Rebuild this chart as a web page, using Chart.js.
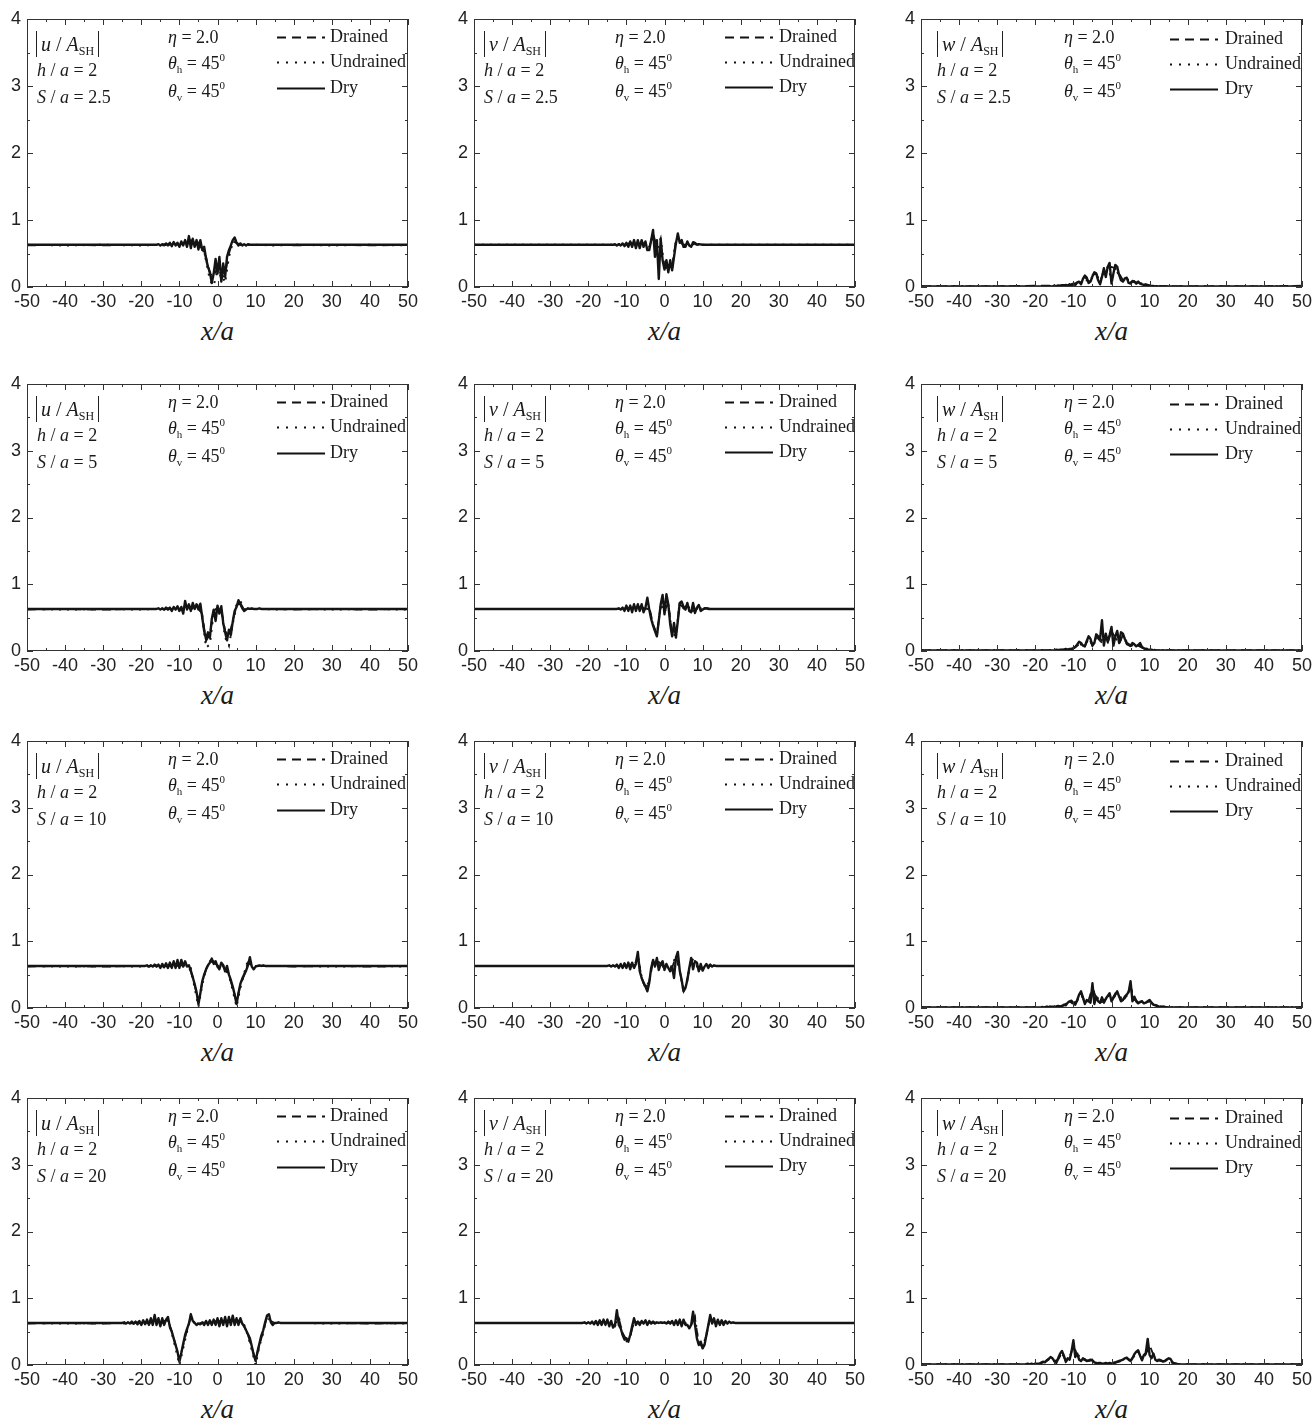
<!DOCTYPE html>
<html>
<head>
<meta charset="utf-8">
<script src="https://cdn.jsdelivr.net/npm/chart.js@4.4.1/dist/chart.umd.min.js"></script>
<style>
  body { margin: 0; background: #fff; width: 1313px; height: 1422px; overflow: hidden; position: relative;
         font-family: 'Liberation Serif', 'Times New Roman', serif; color: #1a1a1a; }
  canvas { position: absolute; }
  .t { position: absolute; font-size: 18px; line-height: 22px; white-space: nowrap; }
  .t sub { font-size: 11px; vertical-align: -4px; line-height: 0; font-style: normal; }
  .t sup { font-size: 11px; vertical-align: 8px; line-height: 0; }
  .abs { display: inline-block; font-size: 20px; border-left: 1.5px solid #222; border-right: 1.5px solid #222; padding: 2px 4px; line-height: 22px; }
  .abs sub { font-size: 12px; }
  .xl { position: absolute; font-size: 27px; font-style: italic; width: 120px; text-align: center; line-height: 30px; }
</style>
</head>
<body>
<script>
// panel labels
const varNames = ['u', 'v', 'w'];
const sLabels = ['2.5', '5', '10', '20'];
const legendLabels = ['Drained', 'Undrained', 'Dry'];
const xTickMarks = [-50,-45,-40,-35,-30,-25,-20,-15,-10,-5,0,5,10,15,20,25,30,35,40,45,50];
const yTickMarks = [0,0.5,1,1.5,2,2.5,3,3.5,4];

// ---- row 1 : S/a = 2.5 ----
const xDense1 = [-50,-40,-30,-20,
  -16,-15.5,-15,-14.5,-14,-13.5,-13,-12.5,-12,-11.5,
  -11,-10.5,-10,-9.5,-9,-8.5,-8,-7.5,-7,-6.5,
  -6,-5.5,-5,-4.5,-4,-3.5,-3,-2.5,-2,-1.5,
  -1,-0.5,0,0.5,1,1.5,2,2.5,3,3.5,
  4,4.5,5,5.5,6,6.5,7,7.5,8,8.5,
  9,10,12,15,20,30,40,50];
const uDry1 = [.63,.63,.63,.63,
  .63,.64,.62,.64,.63,.65,.62,.66,.61,.67,
  .62,.66,.60,.68,.62,.70,.60,.76,.58,.72,
  .60,.70,.56,.70,.55,.60,.42,.30,.22,.06,
  .20,.42,.20,.45,.08,.35,.15,.45,.55,.62,
  .70,.74,.66,.62,.65,.62,.64,.62,.64,.63,
  .63,.63,.63,.63,.63,.63,.63,.63];
const vDry1 = [.63,.63,.63,.63,
  .63,.63,.63,.63,.63,.63,.64,.62,.64,.62,
  .65,.61,.66,.60,.68,.60,.70,.58,.70,.58,
  .70,.60,.68,.55,.55,.70,.85,.45,.70,.12,
  .72,.40,.26,.40,.22,.40,.25,.45,.65,.80,
  .66,.70,.60,.60,.68,.62,.60,.67,.66,.63,
  .64,.63,.63,.63,.63,.63,.63,.63];
const wDry1 = [.01,.01,.01,.01,
  .01,.01,.02,.01,.02,.01,.02,.02,.03,.02,
  .04,.02,.05,.03,.07,.08,.04,.12,.17,.14,
  .06,.08,.16,.22,.20,.10,.04,.15,.28,.15,
  .30,.36,.05,.20,.33,.30,.18,.10,.08,.13,
  .14,.06,.05,.09,.08,.05,.08,.05,.04,.03,
  .04,.02,.01,.01,.01,.01,.01,.01];
const xCoarse1 = [-50,-40,-30,-20,
  -15,-14,-13,-12,-11,-10,-9,-8,-7,-6,
  -5,-4,-3,-2,-1,0,1,2,3,4,
  5,6,7,8,9,10,
  15,20,30,40,50];
const uDrained1 = [.62,.63,.62,.63,
  .63,.62,.64,.62,.65,.62,.66,.62,.70,.60,
  .66,.56,.45,.20,.15,.30,.12,.20,.50,.68,
  .66,.63,.64,.63,.63,.63,
  .63,.62,.63,.62,.63];
const uUndrained1 = [.63,.62,.63,.62,
  .63,.63,.63,.63,.64,.62,.65,.63,.68,.62,
  .64,.60,.40,.10,.02,.25,.20,.06,.45,.66,
  .70,.63,.63,.63,.63,.63,
  .62,.63,.62,.63,.62];
const vDrained1 = [.63,.63,.63,.63,
  .63,.63,.63,.63,.64,.63,.66,.65,.64,.66,
  .64,.58,.80,.60,.60,.30,.28,.30,.70,.68,
  .62,.66,.62,.65,.63,.63,
  .63,.63,.63,.63,.63];
const vUndrained1 = [.63,.63,.63,.63,
  .63,.63,.63,.64,.63,.64,.64,.66,.63,.65,
  .62,.60,.78,.55,.72,.28,.30,.28,.68,.70,
  .63,.65,.63,.64,.63,.63,
  .63,.63,.63,.63,.63];
const wDrained1 = [.01,.01,.01,.02,
  .02,.02,.03,.03,.04,.05,.06,.09,.15,.08,
  .18,.20,.08,.25,.28,.30,.28,.20,.10,.12,
  .07,.08,.06,.04,.03,.02,
  .01,.01,.01,.01,.02];
const wUndrained1 = [.01,.01,.01,.01,
  .01,.02,.02,.03,.03,.04,.05,.07,.13,.07,
  .15,.18,.06,.22,.30,.12,.30,.16,.09,.13,
  .06,.09,.07,.05,.03,.02,
  .01,.01,.01,.01,.01];

// ---- row 2 : S/a = 5 ----
const xDense2 = [-50,-40,-30,-20,
  -16,-15.5,-15,-14.5,-14,-13.5,-13,-12.5,-12,-11.5,
  -11,-10.5,-10,-9.5,-9,-8.5,-8,-7.5,-7,-6.5,
  -6,-5.5,-5,-4.5,-4,-3.5,-3,-2.5,-2,-1.5,
  -1,-0.5,0,0.5,1,1.5,2,2.5,3,3.5,
  4,4.5,5,5.5,6,6.5,7,7.5,8,8.5,
  9,9.5,10,10.5,11,11.5,12,
  15,20,30,40,50];
const uDry2 = [.63,.63,.63,.63,
  .63,.64,.62,.64,.62,.65,.62,.65,.60,.66,
  .62,.67,.60,.66,.56,.75,.62,.70,.60,.72,
  .63,.70,.62,.71,.50,.30,.18,.28,.20,.48,
  .62,.45,.68,.56,.67,.42,.28,.16,.32,.24,
  .44,.60,.66,.76,.70,.64,.60,.62,.64,.63,
  .64,.63,.63,.63,.64,.63,.63,
  .63,.63,.63,.63,.63];
const vDry2 = [.63,.63,.63,.63,
  .63,.63,.63,.63,.63,.63,.63,.63,.64,.62,
  .65,.60,.68,.60,.68,.58,.70,.60,.70,.60,
  .70,.58,.65,.80,.62,.48,.38,.30,.22,.45,
  .70,.84,.55,.85,.70,.40,.22,.42,.20,.45,
  .72,.74,.66,.62,.72,.60,.58,.72,.57,.65,
  .69,.60,.62,.64,.64,.63,.63,
  .63,.63,.63,.63,.63];
const wDry2 = [.01,.01,.01,.01,
  .01,.01,.01,.02,.01,.02,.02,.02,.03,.02,
  .03,.03,.04,.06,.10,.14,.12,.08,.07,.15,
  .22,.18,.08,.12,.25,.22,.18,.46,.08,.26,
  .14,.24,.36,.08,.22,.30,.12,.28,.26,.18,
  .12,.10,.08,.12,.10,.07,.09,.12,.06,.04,
  .03,.02,.02,.02,.01,.01,.01,
  .01,.01,.01,.01,.01];
const xCoarse2 = [-50,-40,-30,-20,
  -16,-15,-14,-13,-12,-11,-10,-9,-8,-7,
  -6,-5,-4,-3,-2,-1,0,1,2,3,
  4,5,6,7,8,9,10,11,12,
  15,20,30,40,50];
const uDrained2 = [.62,.63,.62,.63,
  .63,.63,.62,.64,.62,.65,.63,.60,.68,.62,
  .66,.64,.55,.15,.25,.60,.65,.62,.30,.22,
  .45,.68,.72,.62,.63,.63,.63,.63,.63,
  .63,.62,.63,.62,.63];
const uUndrained2 = [.63,.62,.63,.62,
  .63,.62,.63,.63,.63,.64,.62,.62,.70,.63,
  .65,.70,.50,.05,.10,.58,.62,.60,.20,.08,
  .40,.70,.75,.63,.63,.63,.63,.63,.63,
  .62,.63,.62,.63,.62];
const vDrained2 = [.63,.63,.63,.63,
  .63,.63,.63,.63,.63,.64,.64,.64,.66,.65,
  .66,.63,.66,.40,.25,.68,.60,.72,.25,.25,
  .70,.65,.68,.60,.60,.66,.62,.64,.63,
  .63,.63,.63,.63,.63];
const vUndrained2 = [.63,.63,.63,.63,
  .63,.63,.63,.63,.63,.63,.65,.63,.67,.64,
  .67,.62,.64,.38,.24,.70,.58,.70,.24,.24,
  .72,.64,.69,.60,.60,.66,.62,.64,.63,
  .63,.63,.63,.63,.63];
const wDrained2 = [.01,.01,.01,.01,
  .01,.01,.01,.02,.02,.03,.04,.08,.12,.07,
  .20,.08,.22,.15,.10,.12,.30,.20,.10,.24,
  .10,.07,.10,.08,.05,.03,.02,.01,.01,
  .01,.01,.01,.01,.01];
const wUndrained2 = [.01,.01,.01,.01,
  .01,.01,.02,.02,.02,.03,.05,.07,.10,.09,
  .18,.10,.20,.20,.12,.15,.28,.18,.14,.20,
  .14,.08,.09,.10,.06,.04,.02,.02,.01,
  .01,.01,.01,.01,.01];

// ---- row 3 : S/a = 10 ----
const xDense3 = [-50,-40,-30,-25,
  -20,-19.5,-19,-18.5,-18,-17.5,-17,-16.5,-16,-15.5,
  -15,-14.5,-14,-13.5,-13,-12.5,-12,-11.5,-11,-10.5,
  -10,-9.5,-9,-8.5,-8,-7.5,-7,-6.5,-6,-5.5,
  -5,-4.5,-4,-3.5,-3,-2.5,-2,-1.5,-1,-0.5,
  0,0.5,1,1.5,2,2.5,3,3.5,4,4.5,
  5,5.5,6,6.5,7,7.5,8,8.5,9,9.5,
  10,10.5,11,11.5,12,12.5,13,13.5,14,14.5,
  15,20,25,30,40,50];
const uDry3 = [.63,.63,.63,.63,
  .63,.63,.63,.64,.62,.64,.62,.65,.62,.65,
  .60,.66,.61,.67,.60,.68,.60,.70,.60,.72,
  .60,.72,.62,.70,.62,.64,.56,.46,.36,.24,
  .06,.22,.40,.50,.58,.64,.68,.74,.66,.70,
  .62,.58,.68,.64,.55,.63,.50,.42,.32,.20,
  .06,.22,.36,.44,.50,.56,.64,.76,.62,.58,
  .62,.63,.64,.63,.64,.63,.63,.63,.63,.63,
  .63,.63,.63,.63,.63,.63];
const vDry3 = [.63,.63,.63,.63,
  .63,.63,.63,.63,.63,.63,.63,.63,.63,.63,
  .63,.64,.62,.64,.62,.65,.60,.66,.60,.67,
  .60,.68,.58,.68,.60,.66,.84,.55,.45,.38,
  .32,.25,.38,.60,.72,.62,.75,.57,.66,.70,
  .57,.66,.60,.55,.62,.45,.75,.84,.56,.42,
  .25,.30,.42,.60,.75,.58,.70,.68,.55,.66,
  .56,.62,.66,.60,.65,.62,.64,.63,.63,.63,
  .63,.63,.63,.63,.63,.63];
const wDry3 = [.01,.01,.01,.01,
  .01,.01,.01,.01,.01,.01,.02,.01,.02,.02,
  .02,.02,.03,.02,.03,.05,.04,.08,.10,.11,
  .07,.05,.12,.20,.25,.16,.06,.12,.10,.08,
  .37,.06,.17,.10,.08,.16,.08,.14,.18,.22,
  .10,.15,.20,.25,.17,.10,.12,.17,.20,.24,
  .40,.10,.17,.10,.07,.09,.10,.07,.08,.10,
  .12,.08,.05,.04,.03,.02,.02,.02,.01,.01,
  .01,.01,.01,.01,.01,.01];
const xCoarse3 = [-50,-40,-30,
  -20,-19,-18,-17,-16,-15,-14,-13,-12,-11,
  -10,-9,-8,-7,-6,-5,-4,-3,-2,-1,
  0,1,2,3,4,5,6,7,8,9,
  10,11,12,13,14,15,
  20,30,40,50];
const uDrained3 = [.62,.63,.62,
  .63,.63,.62,.63,.63,.62,.63,.62,.64,.63,
  .64,.64,.64,.55,.34,.10,.38,.58,.70,.68,
  .64,.66,.58,.48,.30,.10,.34,.50,.68,.64,
  .62,.63,.63,.63,.63,.63,
  .62,.63,.62,.63];
const uUndrained3 = [.63,.62,.63,
  .62,.63,.63,.62,.64,.63,.62,.64,.62,.66,
  .62,.66,.62,.60,.30,.02,.35,.60,.66,.70,
  .62,.68,.60,.50,.26,.02,.30,.52,.72,.62,
  .63,.63,.63,.63,.63,.63,
  .63,.62,.63,.62];
const vDrained3 = [.63,.63,.63,
  .63,.63,.63,.63,.63,.63,.63,.63,.62,.64,
  .62,.65,.62,.78,.45,.30,.40,.70,.72,.66,
  .60,.62,.60,.78,.56,.26,.44,.72,.68,.58,
  .60,.64,.63,.63,.63,.63,
  .63,.63,.63,.63];
const vUndrained3 = [.63,.63,.63,
  .63,.63,.63,.63,.63,.63,.63,.63,.63,.63,
  .63,.64,.63,.80,.46,.30,.38,.72,.70,.65,
  .60,.62,.62,.80,.55,.24,.42,.74,.70,.57,
  .60,.65,.62,.63,.63,.63,
  .63,.63,.63,.63];
const wDrained3 = [.01,.01,.01,
  .01,.01,.01,.02,.02,.02,.03,.03,.05,.09,
  .08,.10,.22,.08,.12,.30,.15,.08,.10,.16,
  .12,.22,.15,.12,.18,.32,.15,.08,.09,.08,
  .10,.05,.03,.02,.02,.01,
  .01,.01,.01,.01];
const wUndrained3 = [.01,.01,.01,
  .01,.01,.02,.02,.02,.03,.03,.04,.06,.10,
  .06,.12,.20,.10,.10,.28,.18,.10,.12,.20,
  .14,.18,.20,.10,.20,.30,.12,.10,.10,.10,
  .11,.06,.04,.02,.02,.01,
  .01,.01,.01,.01];

// ---- row 4 : S/a = 20 ----
const xDense4 = [-50,-40,-30,
  -26,-25.5,-25,-24.5,-24,-23.5,-23,-22.5,-22,-21.5,
  -21,-20.5,-20,-19.5,-19,-18.5,-18,-17.5,-17,-16.5,
  -16,-15.5,-15,-14.5,-14,-13.5,-13,-12.5,-12,-11.5,
  -11,-10.5,-10,-9.5,-9,-8.5,-8,-7.5,-7,-6.5,
  -6,-5.5,-5,-4.5,-4,-3.5,-3,-2.5,-2,-1.5,
  -1,-0.5,0,0.5,1,1.5,2,2.5,3,3.5,
  4,4.5,5,5.5,6,6.5,7,7.5,8,8.5,
  9,9.5,10,10.5,11,11.5,12,12.5,13,13.5,
  14,14.5,15,15.5,16,16.5,17,17.5,18,18.5,
  19,19.5,20,20.5,21,21.5,22,
  30,40,50];
const uDry4 = [.63,.63,.63,
  .63,.63,.63,.64,.62,.64,.62,.65,.62,.65,
  .61,.66,.60,.67,.61,.68,.60,.70,.60,.75,
  .60,.70,.58,.70,.60,.68,.72,.57,.50,.40,
  .30,.20,.05,.18,.32,.45,.54,.62,.76,.66,
  .63,.60,.62,.61,.64,.60,.66,.60,.67,.60,
  .68,.60,.70,.58,.70,.60,.72,.58,.72,.60,
  .74,.60,.70,.60,.70,.62,.58,.52,.46,.40,
  .28,.15,.06,.20,.32,.44,.52,.64,.74,.76,
  .64,.60,.63,.63,.64,.63,.63,.63,.63,.63,
  .63,.63,.63,.63,.63,.63,.63,
  .63,.63,.63];
const vDry4 = [.63,.63,.63,
  .63,.63,.63,.63,.63,.63,.63,.63,.63,.63,
  .64,.62,.64,.62,.65,.61,.66,.60,.67,.60,
  .68,.60,.68,.58,.66,.56,.60,.82,.60,.55,
  .45,.38,.40,.35,.45,.58,.70,.60,.65,.60,
  .66,.62,.67,.60,.66,.62,.65,.62,.64,.63,
  .64,.63,.64,.62,.65,.62,.66,.60,.67,.60,
  .68,.58,.68,.60,.60,.55,.60,.80,.60,.40,
  .30,.35,.25,.30,.45,.60,.75,.62,.70,.58,
  .68,.60,.67,.60,.66,.62,.65,.63,.64,.63,
  .63,.63,.63,.63,.63,.63,.63,
  .63,.63,.63];
const wDry4 = [.01,.01,.01,
  .01,.01,.01,.01,.01,.01,.01,.01,.02,.01,
  .02,.01,.02,.02,.02,.03,.05,.04,.07,.09,
  .12,.10,.06,.03,.10,.17,.21,.14,.05,.10,
  .08,.20,.37,.12,.17,.08,.06,.10,.08,.06,
  .07,.08,.07,.04,.03,.02,.03,.02,.02,.03,
  .02,.03,.02,.03,.04,.05,.06,.07,.08,.10,
  .11,.08,.06,.10,.16,.20,.22,.14,.07,.15,
  .18,.39,.15,.10,.17,.08,.06,.08,.07,.05,
  .06,.08,.10,.09,.04,.02,.02,.01,.01,.01,
  .01,.01,.01,.01,.01,.01,.01,
  .01,.01,.01];
const xCoarse4 = [-50,-40,-30,
  -26,-25,-24,-23,-22,-21,-20,-19,-18,-17,
  -16,-15,-14,-13,-12,-11,-10,-9,-8,-7,
  -6,-5,-4,-3,-2,-1,0,1,2,3,
  4,5,6,7,8,9,10,11,12,13,
  14,15,16,17,18,19,20,21,22,
  30,40,50];
const uDrained4 = [.62,.63,.62,
  .63,.63,.62,.63,.62,.64,.62,.65,.62,.66,
  .63,.62,.66,.68,.50,.30,.08,.30,.52,.72,
  .64,.62,.63,.64,.64,.65,.66,.66,.66,.67,
  .68,.66,.66,.58,.45,.26,.08,.30,.50,.72,
  .66,.63,.63,.63,.63,.63,.63,.63,.63,
  .63,.62,.63];
const uUndrained4 = [.63,.62,.63,
  .63,.62,.63,.62,.64,.62,.64,.62,.66,.62,
  .70,.60,.68,.66,.48,.25,.00,.25,.50,.74,
  .62,.63,.62,.65,.62,.66,.63,.68,.62,.70,
  .64,.68,.64,.60,.44,.22,.00,.28,.48,.74,
  .64,.63,.63,.63,.63,.63,.63,.63,.63,
  .62,.63,.62];
const vDrained4 = [.63,.63,.63,
  .63,.63,.63,.63,.63,.63,.63,.64,.63,.64,
  .64,.63,.62,.58,.70,.48,.38,.42,.66,.63,
  .64,.64,.63,.64,.63,.63,.63,.63,.64,.63,
  .64,.63,.60,.62,.70,.32,.27,.45,.70,.65,
  .64,.64,.64,.64,.63,.63,.63,.63,.63,
  .63,.63,.63];
const vUndrained4 = [.63,.63,.63,
  .63,.63,.63,.63,.63,.63,.63,.63,.64,.63,
  .65,.64,.63,.60,.72,.46,.36,.44,.64,.64,
  .63,.65,.63,.63,.64,.63,.64,.63,.63,.64,
  .63,.64,.62,.60,.72,.30,.26,.46,.72,.64,
  .65,.63,.64,.63,.63,.63,.63,.63,.63,
  .63,.63,.63];
const wDrained4 = [.01,.01,.01,
  .01,.01,.01,.01,.01,.01,.02,.02,.04,.06,
  .10,.05,.08,.18,.06,.10,.30,.15,.07,.08,
  .06,.07,.03,.02,.02,.02,.02,.03,.05,.07,
  .10,.07,.15,.20,.08,.16,.30,.15,.07,.06,
  .06,.09,.04,.02,.01,.01,.01,.01,.01,
  .01,.01,.01];
const wUndrained4 = [.01,.01,.01,
  .01,.01,.01,.01,.01,.01,.01,.02,.05,.07,
  .11,.06,.07,.20,.05,.12,.25,.18,.08,.09,
  .06,.08,.04,.03,.02,.02,.02,.04,.06,.08,
  .11,.06,.14,.21,.10,.20,.22,.16,.08,.07,
  .07,.10,.03,.02,.01,.01,.01,.01,.01,
  .01,.01,.01];

// panel grid: rows x cols -> [xDense, dry, xCoarse, drained, undrained]
const panels = [
  [[xDense1, uDry1, xCoarse1, uDrained1, uUndrained1], [xDense1, vDry1, xCoarse1, vDrained1, vUndrained1], [xDense1, wDry1, xCoarse1, wDrained1, wUndrained1]],
  [[xDense2, uDry2, xCoarse2, uDrained2, uUndrained2], [xDense2, vDry2, xCoarse2, vDrained2, vUndrained2], [xDense2, wDry2, xCoarse2, wDrained2, wUndrained2]],
  [[xDense3, uDry3, xCoarse3, uDrained3, uUndrained3], [xDense3, vDry3, xCoarse3, vDrained3, vUndrained3], [xDense3, wDry3, xCoarse3, wDrained3, wUndrained3]],
  [[xDense4, uDry4, xCoarse4, uDrained4, uUndrained4], [xDense4, vDry4, xCoarse4, vDrained4, vUndrained4], [xDense4, wDry4, xCoarse4, wDrained4, wUndrained4]],
];

// layout
const rowTops = [19, 384, 741, 1098];
const rowHeights = [268, 267, 267, 267];
const colLefts = [27, 474, 921];
const plotW = 381;
const colAnn = [
  { abs: 9,  left: 10, eta: 141, legX: 250, legY: [18, 43, 69], text: 303 },
  { abs: 10, left: 10, eta: 141, legX: 251, legY: [18, 43, 68], text: 305 },
  { abs: 16, left: 16, eta: 143, legX: 249, legY: [20, 45, 70], text: 304 },
];

const frameTicks = {
  id: 'frameTicks',
  afterDatasetsDraw(chart, args, opts) {
    const { ctx, chartArea: a, scales } = chart;
    ctx.save();
    ctx.strokeStyle = '#333';
    ctx.lineWidth = 1;
    ctx.setLineDash([]);
    ctx.strokeRect(a.left + 0.5, a.top + 0.5, a.width - 1, a.height - 1);
    ctx.beginPath();
    xTickMarks.forEach(v => {
      const px = Math.round(scales.x.getPixelForValue(v)) + 0.5;
      const len = v % 10 === 0 ? 6 : 3;
      ctx.moveTo(px, a.bottom); ctx.lineTo(px, a.bottom - len);
      ctx.moveTo(px, a.top); ctx.lineTo(px, a.top + len);
    });
    yTickMarks.forEach(v => {
      const py = Math.round(scales.y.getPixelForValue(v)) + 0.5;
      const len = v % 1 === 0 ? 6 : 3;
      ctx.moveTo(a.left, py); ctx.lineTo(a.left + len, py);
      ctx.moveTo(a.right, py); ctx.lineTo(a.right - len, py);
    });
    ctx.stroke();
    // legend samples
    const dashes = [[9, 6], [2, 7], []];
    opts.legY.forEach((dy, i) => {
      ctx.beginPath();
      ctx.strokeStyle = '#111';
      ctx.lineWidth = 2;
      ctx.setLineDash(dashes[i]);
      ctx.moveTo(a.left + opts.legX, a.top + dy + 0.5);
      ctx.lineTo(a.left + opts.legX + 48, a.top + dy + 0.5);
      ctx.stroke();
    });
    ctx.restore();
  }
};

const toPts = (xs, ys) => xs.map((x, i) => ({ x: x, y: ys[i] }));
const tickFont = { family: "'Liberation Sans', Arial, sans-serif", size: 18 };

function addText(html, left, top, cls) {
  const d = document.createElement('div');
  d.className = cls || 't';
  d.style.left = left + 'px';
  d.style.top = top + 'px';
  d.innerHTML = html;
  document.body.appendChild(d);
}

panels.forEach((row, r) => {
  row.forEach((p, c) => {
    const [xd, dry, xc, drained, undrained] = p;
    const L = colLefts[c], T = rowTops[r], H = rowHeights[r];
    const cv = document.createElement('canvas');
    const cw = 420, ch = 19 + H + 28;
    cv.width = cw; cv.height = ch;
    cv.style.left = (L - 27) + 'px';
    cv.style.top = (T - 19) + 'px';
    cv.style.width = cw + 'px'; cv.style.height = ch + 'px';
    document.body.appendChild(cv);
    const an = colAnn[c];

    new Chart(cv, {
      type: 'line',
      data: {
        datasets: [
          { label: 'Dry', data: toPts(xd, dry), borderColor: '#141414', borderWidth: 2.4, pointRadius: 0, tension: 0, borderJoinStyle: 'round' },
          { label: 'Drained', data: toPts(xc, drained), borderColor: '#141414', borderWidth: 1.8, borderDash: [9, 6], pointRadius: 0, tension: 0 },
          { label: 'Undrained', data: toPts(xc, undrained), borderColor: '#141414', borderWidth: 2, borderDash: [2, 6], pointRadius: 0, tension: 0 },
        ]
      },
      options: {
        responsive: false,
        animation: false,
        devicePixelRatio: 1,
        layout: { padding: { top: 19, right: 12, left: 0, bottom: 0 } },
        plugins: {
          legend: { display: false },
          tooltip: { enabled: false },
          frameTicks: { legX: an.legX, legY: an.legY }
        },
        scales: {
          x: {
            type: 'linear', min: -50, max: 50,
            ticks: { stepSize: 10, font: tickFont, color: '#222', padding: 4, maxRotation: 0, autoSkip: false },
            grid: { display: false, drawTicks: false },
            border: { display: false },
            afterFit(s) { s.height = 28; s.paddingLeft = 0; s.paddingRight = 0; }
          },
          y: {
            min: 0, max: 4,
            ticks: { stepSize: 1, font: tickFont, color: '#222', padding: 6 },
            grid: { display: false, drawTicks: false },
            border: { display: false },
            afterFit(s) { s.width = 27; s.paddingTop = 0; s.paddingBottom = 0; }
          }
        }
      },
      plugins: [frameTicks]
    });

    // annotations
    const v = varNames[c];
    addText('<span class="abs"><i>' + v + '</i> / <i>A</i><sub>SH</sub></span>', L + an.abs, T + 26 - 14);
    addText('<i>h</i> / <i>a</i> = 2', L + an.left, T + 51 - 11);
    addText('<i>S</i> / <i>a</i> = ' + sLabels[r], L + an.left, T + 78 - 11);
    addText('<i>η</i> = 2.0', L + an.eta, T + 18 - 11);
    addText('<i>θ</i><sub>h</sub> = 45<sup>0</sup>', L + an.eta, T + 44 - 11);
    addText('<i>θ</i><sub>v</sub> = 45<sup>0</sup>', L + an.eta, T + 72 - 11);
    legendLabels.forEach((lab, i) => addText(lab, L + an.text, T + an.legY[i] - 12));
    addText('x/a', L + plotW / 2 - 60, T + H + 44 - 15, 'xl');
  });
});
</script>
</body>
</html>
